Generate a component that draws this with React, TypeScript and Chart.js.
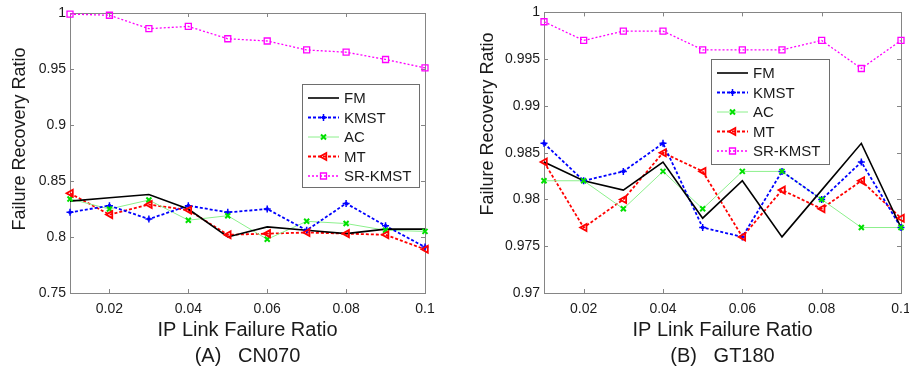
import React, { useEffect, useRef } from "react";
import { Chart, registerables } from "chart.js";

Chart.register(...registerables);

// ---------- data ----------
const xValues = [0.01, 0.02, 0.03, 0.04, 0.05, 0.06, 0.07, 0.08, 0.09, 0.1];
const xTickValues = [0.02, 0.04, 0.06, 0.08, 0.1];
const xTickLabels = ["0.02", "0.04", "0.06", "0.08", "0.1"];

const seriesNames = ["FM", "KMST", "AC", "MT", "SR-KMST"];

// (A) CN070
const cnFM = [0.832, 0.835, 0.838, 0.825, 0.8, 0.809, 0.806, 0.803, 0.807, 0.807];
const cnKMST = [0.822, 0.828, 0.816, 0.828, 0.822, 0.825, 0.806, 0.83, 0.81, 0.791];
const cnAC = [0.834, 0.825, 0.833, 0.815, 0.819, 0.798, 0.814, 0.812, 0.806, 0.805];
const cnMT = [0.839, 0.82, 0.829, 0.824, 0.802, 0.803, 0.804, 0.803, 0.802, 0.789];
const cnSRKMST = [0.999, 0.998, 0.986, 0.988, 0.977, 0.975, 0.967, 0.965, 0.9585, 0.951];
const cnYTicks = [0.75, 0.8, 0.85, 0.9, 0.95, 1];
const cnYTickLabels = ["0.75", "0.8", "0.85", "0.9", "0.95", "1"];

// (B) GT180
const gtFM = [0.984, 0.982, 0.981, 0.984, 0.978, 0.982, 0.976, 0.981, 0.986, 0.977];
const gtKMST = [0.986, 0.982, 0.983, 0.986, 0.977, 0.976, 0.983, 0.98, 0.984, 0.977];
const gtAC = [0.982, 0.982, 0.979, 0.983, 0.979, 0.983, 0.983, 0.98, 0.977, 0.977];
const gtMT = [0.984, 0.977, 0.98, 0.985, 0.983, 0.976, 0.981, 0.979, 0.982, 0.978];
const gtSRKMST = [0.999, 0.997, 0.998, 0.998, 0.996, 0.996, 0.996, 0.997, 0.994, 0.997];
const gtYTicks = [0.97, 0.975, 0.98, 0.985, 0.99, 0.995, 1];
const gtYTickLabels = ["0.97", "0.975", "0.98", "0.985", "0.99", "0.995", "1"];

const xTitle = "IP Link Failure Ratio";
const yTitle = "Failure Recovery Ratio";
const captionA = "(A)   CN070";
const captionB = "(B)   GT180";

// ---------- styles ----------
type Sty = {
  color: string;
  lineColor: string;
  width: number;
  dash: number[];
  marker: string;
  radius: number;
};
const styles: Sty[] = [
  { color: "#000000", lineColor: "#000000", width: 1.6, dash: [], marker: "none", radius: 0 },
  { color: "#0000ff", lineColor: "#0000ff", width: 1.8, dash: [3, 2], marker: "plus", radius: 3.5 },
  { color: "#00e000", lineColor: "#8cf08c", width: 1, dash: [], marker: "x", radius: 2.5 },
  { color: "#ff0000", lineColor: "#ff0000", width: 1.8, dash: [3, 2], marker: "tri", radius: 3.5 },
  { color: "#ff00ff", lineColor: "#ff00ff", width: 1.3, dash: [2, 2], marker: "sq", radius: 3 },
];

const FONT = "Arial, 'Liberation Sans', Helvetica, sans-serif";
const TEXT = "#1a1a1a";

function drawMarker(ctx: CanvasRenderingContext2D, kind: string, x: number, y: number, r: number, color: string) {
  ctx.save();
  ctx.setLineDash([]);
  ctx.strokeStyle = color;
  ctx.fillStyle = color;
  ctx.lineWidth = 1.5;
  ctx.beginPath();
  if (kind === "plus") {
    ctx.moveTo(x - r, y);
    ctx.lineTo(x + r, y);
    ctx.moveTo(x, y - r);
    ctx.lineTo(x, y + r);
    ctx.stroke();
    ctx.fillRect(x - 1.5, y - 1.5, 3, 3);
  } else if (kind === "x") {
    ctx.moveTo(x - r, y - r);
    ctx.lineTo(x + r, y + r);
    ctx.moveTo(x - r, y + r);
    ctx.lineTo(x + r, y - r);
    ctx.lineWidth = 2;
    ctx.stroke();
  } else if (kind === "tri") {
    ctx.moveTo(x - r, y);
    ctx.lineTo(x + r * 0.8, y - r);
    ctx.lineTo(x + r * 0.8, y + r);
    ctx.closePath();
    ctx.lineWidth = 1.8;
    ctx.stroke();
  } else if (kind === "sq") {
    ctx.rect(x - r, y - r, 2 * r, 2 * r);
    ctx.lineWidth = 1.3;
    ctx.stroke();
  }
  ctx.restore();
}

type PanelCfg = {
  series: number[][];
  yTicks: number[];
  yTickLabels: string[];
  caption: string;
  plotLeft: number;
  plotRight: number;
  plotTop: number;
  plotBottom: number;
  canvasW: number;
  yTitleX: number;
  yTitleY: number;
  legend: { x: number; y: number; w: number; h: number };
};

const H = 369;

function makeChart(canvas: HTMLCanvasElement, cfg: PanelCfg) {
  const datasets = cfg.series.map((vals, i) => {
    const s = styles[i];
    return {
      label: seriesNames[i],
      data: xValues.map((x, k) => ({ x, y: vals[k] })),
      borderColor: s.lineColor,
      borderWidth: s.width,
      borderDash: s.dash,
      pointRadius: 0,
      pointHoverRadius: 0,
      fill: false,
      tension: 0,
      clip: false as any,
    };
  });

  const decor = {
    id: "decor",
    beforeDatasetsDraw(chart: any) {
      const { ctx, chartArea: a, scales } = chart;
      ctx.save();
      ctx.strokeStyle = "#858585";
      ctx.lineWidth = 1;
      ctx.strokeRect(Math.round(a.left) + 0.5, Math.round(a.top) + 0.5, Math.round(a.right - a.left), Math.round(a.bottom - a.top));
      const tl = 4;
      ctx.beginPath();
      for (const v of xTickValues) {
        const px = Math.round(scales.x.getPixelForValue(v)) + 0.5;
        ctx.moveTo(px, a.bottom);
        ctx.lineTo(px, a.bottom - tl);
        ctx.moveTo(px, a.top);
        ctx.lineTo(px, a.top + tl);
      }
      for (const v of cfg.yTicks) {
        const py = Math.round(scales.y.getPixelForValue(v)) + 0.5;
        ctx.moveTo(a.left, py);
        ctx.lineTo(a.left + tl, py);
        ctx.moveTo(a.right, py);
        ctx.lineTo(a.right - tl, py);
      }
      ctx.stroke();
      ctx.restore();
    },
    afterDatasetsDraw(chart: any) {
      const { ctx, scales } = chart;
      cfg.series.forEach((vals, i) => {
        const s = styles[i];
        if (s.marker === "none") return;
        vals.forEach((v, k) => {
          const px = scales.x.getPixelForValue(xValues[k]);
          const py = scales.y.getPixelForValue(v);
          drawMarker(ctx, s.marker, px, py, s.radius, s.color);
        });
      });
    },
    afterDraw(chart: any) {
      const { ctx, chartArea: a } = chart;
      ctx.save();
      // legend
      const L = cfg.legend;
      ctx.fillStyle = "#ffffff";
      ctx.fillRect(L.x, L.y, L.w, L.h);
      ctx.strokeStyle = "#6e6e6e";
      ctx.lineWidth = 1;
      ctx.strokeRect(L.x + 0.5, L.y + 0.5, L.w, L.h);
      ctx.font = `15px ${FONT}`;
      ctx.textBaseline = "middle";
      ctx.textAlign = "left";
      seriesNames.forEach((name, i) => {
        const s = styles[i];
        const cy = L.y + 14 + i * 19.5;
        ctx.save();
        ctx.strokeStyle = s.lineColor;
        ctx.lineWidth = s.width;
        ctx.setLineDash(s.dash);
        ctx.beginPath();
        ctx.moveTo(L.x + 6, cy);
        ctx.lineTo(L.x + 37, cy);
        ctx.stroke();
        ctx.restore();
        if (s.marker !== "none") drawMarker(ctx, s.marker, L.x + 21.5, cy, s.radius, s.color);
        ctx.fillStyle = TEXT;
        ctx.fillText(name, L.x + 42, cy + 1);
      });
      // titles
      ctx.fillStyle = TEXT;
      ctx.textAlign = "center";
      ctx.textBaseline = "middle";
      const cx = (a.left + a.right) / 2;
      ctx.font = `20px ${FONT}`;
      ctx.fillText(xTitle, cx, 330);
      ctx.fillText(cfg.caption, cx, 356);
      ctx.save();
      ctx.translate(cfg.yTitleX, cfg.yTitleY);
      ctx.rotate(-Math.PI / 2);
      ctx.font = `18px ${FONT}`;
      ctx.fillText(yTitle, 0, 0);
      ctx.restore();
      ctx.restore();
    },
  };

  return new Chart(canvas, {
    type: "line",
    data: { datasets },
    plugins: [decor],
    options: {
      responsive: false,
      animation: false,
      events: [],
      layout: {
        padding: { left: 0, top: cfg.plotTop, right: cfg.canvasW - cfg.plotRight, bottom: 0 },
      },
      plugins: { legend: { display: false }, tooltip: { enabled: false }, title: { display: false } },
      scales: {
        x: {
          type: "linear",
          min: 0.01,
          max: 0.1,
          grid: { display: false, drawTicks: false },
          border: { display: false },
          afterFit: (s: any) => {
            s.height = H - cfg.plotBottom;
          },
          afterBuildTicks: (s: any) => {
            s.ticks = xTickValues.map((v) => ({ value: v }));
          },
          ticks: {
            autoSkip: false,
            maxRotation: 0,
            padding: 8,
            color: TEXT,
            font: { family: FONT, size: 14 },
            callback: (_v: any, idx: number) => xTickLabels[idx],
          },
        },
        y: {
          type: "linear",
          min: cfg.yTicks[0],
          max: cfg.yTicks[cfg.yTicks.length - 1],
          grid: { display: false, drawTicks: false },
          border: { display: false },
          afterFit: (s: any) => {
            s.width = cfg.plotLeft;
          },
          afterBuildTicks: (s: any) => {
            s.ticks = cfg.yTicks.map((v) => ({ value: v }));
          },
          ticks: {
            autoSkip: false,
            padding: 4,
            color: TEXT,
            font: { family: FONT, size: 14 },
            callback: (_v: any, idx: number) => cfg.yTickLabels[idx],
          },
        },
      },
    } as any,
  });
}

const leftCfg: PanelCfg = {
  series: [cnFM, cnKMST, cnAC, cnMT, cnSRKMST],
  yTicks: cnYTicks,
  yTickLabels: cnYTickLabels,
  caption: captionA,
  plotLeft: 70,
  plotRight: 425,
  plotTop: 13,
  plotBottom: 293,
  canvasW: 454,
  yTitleX: 20,
  yTitleY: 139,
  legend: { x: 302, y: 84, w: 117, h: 103 },
};

const rightCfg: PanelCfg = {
  series: [gtFM, gtKMST, gtAC, gtMT, gtSRKMST],
  yTicks: gtYTicks,
  yTickLabels: gtYTickLabels,
  caption: captionB,
  plotLeft: 90,
  plotRight: 447,
  plotTop: 12,
  plotBottom: 293,
  canvasW: 480,
  yTitleX: 34,
  yTitleY: 124,
  legend: { x: 257, y: 59, w: 118, h: 105 },
};

function Panel({ cfg, left }: { cfg: PanelCfg; left: number }) {
  const ref = useRef<HTMLCanvasElement | null>(null);
  useEffect(() => {
    if (!ref.current) return;
    const ch = makeChart(ref.current, cfg);
    return () => ch.destroy();
  }, [cfg]);
  return (
    <canvas
      ref={ref}
      width={cfg.canvasW}
      height={H}
      style={{ position: "absolute", left, top: 0, width: cfg.canvasW, height: H }}
    />
  );
}

export default function App() {
  return (
    <div
      style={{
        position: "absolute",
        left: 0,
        top: 0,
        width: 909,
        height: H,
        overflow: "hidden",
        background: "#ffffff",
      }}
    >
      <Panel cfg={leftCfg} left={0} />
      <Panel cfg={rightCfg} left={454} />
    </div>
  );
}
